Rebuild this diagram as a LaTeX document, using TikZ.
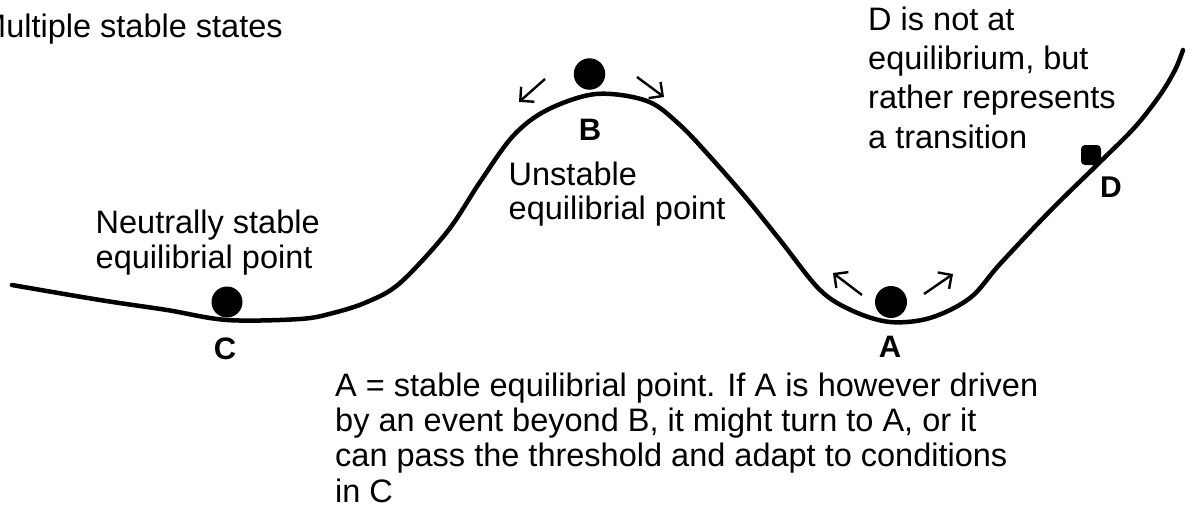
\documentclass[tikz,border=0pt]{standalone}
\usepackage{fontspec}
\setmainfont{Liberation Sans}
\usetikzlibrary{arrows.meta}
\begin{document}
\begin{tikzpicture}[x=1pt,y=-1pt,
  txt/.style={font=\fontsize{32.5}{35.3}\selectfont, inner sep=0pt, anchor=base west, align=left},
  lbl/.style={font=\fontsize{31}{34}\selectfont\bfseries, inner sep=0pt, anchor=base},
  ball/.style={circle, fill=black, inner sep=0pt},
  push/.style={line width=2.4pt, -{Straight Barb[length=10pt,width=20pt,line width=2.4pt]}},
  land/.style={line width=4.5pt, line cap=round, line join=round}]
\useasboundingbox (0,0) rectangle (1193,507);

% landscape curve
\draw[land] plot[smooth, tension=0.55] coordinates {
  (12,285) (100,300) (167,310) (227,320) (300,319) (333,313) (367,302) (400,283)
  (447,232) (480,182) (513,136) (547,110) (596,94) (647,101) (680,125)
  (713,160) (747,199) (780,240) (820,290) (853,311) (890,322) (930,318) (970,298)
  (1000,264) (1050,211) (1100,162) (1135,127) (1160,95) (1175,70) (1183,50)};

% balls
\node[ball, minimum size=31.5pt] (ballB) at (589.5,74) {};
\node[ball, minimum size=31pt] (ballC) at (227,302) {};
\node[ball, minimum size=32pt] (ballA) at (891,302) {};
\node[fill=black, rounded corners=4pt, minimum size=20pt, inner sep=0pt] (sqD) at (1091,155) {};

% push arrows
\coordinate (bl0) at (545,79);  \coordinate (bl1) at (519,102);
\coordinate (br0) at (637,77);  \coordinate (br1) at (664,97);
\coordinate (al0) at (862,295); \coordinate (al1) at (833,273);
\coordinate (ar0) at (924,294); \coordinate (ar1) at (953,274);
\draw[push] (bl0) -- (bl1);
\draw[push] (br0) -- (br1);
\draw[push] (al0) -- (al1);
\draw[push] (ar0) -- (ar1);

% labels
\node[lbl] (labB) at (590,140) {B};
\node[lbl] (labC) at (225,359) {C};
\node[lbl] (labA) at (890,357) {A};
\node[lbl, font=\fontsize{30}{33}\selectfont\bfseries] (labD) at (1111,197) {D};

% texts (base anchor = baseline of last line)
\node[txt] (title) at (-21,37) {Multiple stable states};
\node[txt, font=\fontsize{32.5}{39.3}\selectfont] (tD) at (868,148) {D is not at\\equilibrium, but\\rather represents\\a transition};
\node[txt, font=\fontsize{32.5}{35}\selectfont] (tC) at (95.5,268) {Neutrally stable\\equilibrial point};
\node[txt, font=\fontsize{32.5}{34}\selectfont] (tB) at (508.5,219) {Unstable\\equilibrial point};
\node[txt] (tA) at (335,502) {A = stable equilibrial point. If A is however driven\\by an event beyond B, it might turn to A, or it\\can pass the threshold and adapt to conditions\\in C};
\end{tikzpicture}
\end{document}
